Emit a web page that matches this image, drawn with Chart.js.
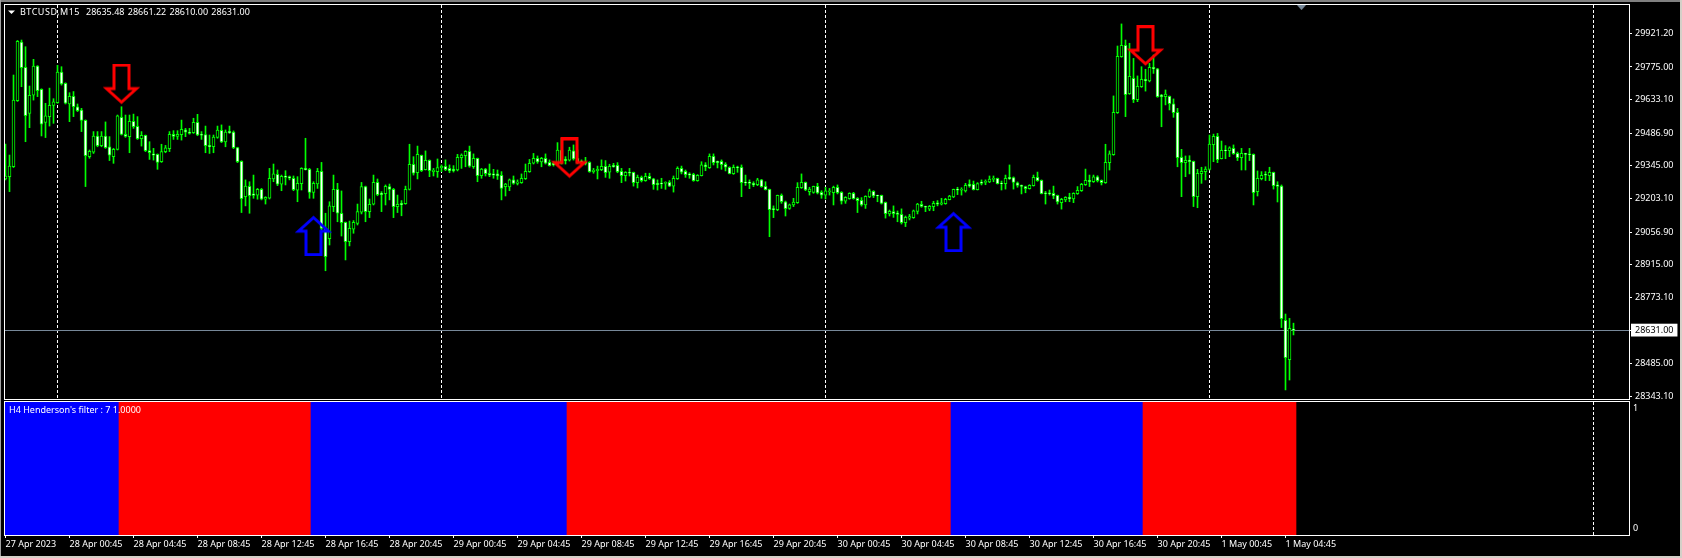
<!DOCTYPE html>
<html><head><meta charset="utf-8"><title>BTCUSD M15</title>
<script src="https://cdn.jsdelivr.net/npm/chart.js@4/dist/chart.umd.min.js"></script>
<style>
html,body{margin:0;padding:0;background:#000;overflow:hidden}
#w{position:relative;width:1682px;height:558px;background:#000;overflow:hidden}
canvas{position:absolute;left:0;display:block}
.e{position:absolute;z-index:5}
</style></head><body>
<div id="w">
<canvas id="price" width="1682" height="400" style="top:0"></canvas>
<canvas id="filter" width="1682" height="158" style="top:400px"></canvas>
<div class="e" style="left:0;top:0;width:1682px;height:2px;background:#808080"></div>
<div class="e" style="left:0;top:0;width:1px;height:558px;background:#a0a0a0"></div>
<div class="e" style="left:1680px;top:0;width:2px;height:558px;background:#d4d0c8"></div>
<div class="e" style="left:0;top:556px;width:1682px;height:2px;background:#d4d0c8"></div>
</div>
<script>
const opens=[29288,29298,29341,29628,29883,29773,29573,29652,29779,29678,
29534,29559,29608,29620,29753,29704,29614,29647,29602,29588,
29543,29385,29405,29475,29433,29475,29428,29385,29417,29556,
29482,29472,29539,29517,29463,29478,29411,29397,29395,29363,
29407,29420,29482,29473,29481,29502,29492,29489,29534,29482,
29481,29434,29428,29469,29499,29449,29495,29492,29425,29365,
29211,29256,29223,29218,29243,29200,29205,29288,29308,29265,
29301,29298,29291,29239,29268,29334,29330,29230,29266,29321,
29073,29029,29168,29243,29139,29100,29015,29070,29095,29144,
29255,29146,29178,29273,29226,29224,29255,29243,29168,29182,
29181,29243,29352,29315,29391,29328,29369,29320,29320,29337,
29343,29334,29331,29327,29381,29389,29408,29341,29378,29302,
29331,29313,29310,29310,29304,29255,29253,29284,29269,29272,
29289,29320,29357,29378,29362,29378,29360,29356,29353,29414,
29373,29370,29410,29378,29366,29360,29360,29320,29324,29328,
29343,29318,29347,29347,29321,29302,29317,29317,29272,29295,
29281,29300,29289,29269,29270,29269,29273,29257,29289,29334,
29321,29310,29308,29281,29302,29349,29337,29386,29365,29365,
29352,29339,29311,29341,29339,29275,29275,29269,29263,29284,
29256,29243,29159,29155,29217,29189,29160,29175,29185,29250,
29273,29233,29230,29256,29230,29218,29233,29228,29252,29230,
29191,29202,29226,29204,29195,29175,29210,29234,29217,29217,
29186,29136,29146,29140,29134,29098,29118,29120,29147,29178,
29169,29157,29168,29184,29179,29181,29198,29210,29244,29239,
29236,29266,29265,29241,29275,29273,29275,29286,29291,29270,
29268,29295,29294,29271,29260,29255,29246,29259,29295,29282,
29228,29228,29226,29217,29185,29197,29208,29201,29224,29237,
29263,29282,29276,29297,29282,29272,29359,29394,29576,29820,
29869,29659,29725,29633,29689,29721,29714,29773,29767,29653,
29646,29647,29615,29578,29382,29359,29370,29365,29211,29311,
29320,29330,29437,29473,29376,29414,29411,29421,29399,29381,
29399,29397,29395,29233,29289,29308,29302,29317,29262,29257,
28673,28503,28635.48];
const closes=[29301,29344,29631,29886,29772,29563,29652,29779,29672,29526,
29562,29608,29623,29753,29701,29617,29647,29602,29585,29543,
29389,29408,29475,29433,29475,29424,29392,29417,29562,29482,
29473,29539,29515,29463,29478,29411,29402,29391,29360,29407,
29423,29482,29473,29482,29504,29492,29486,29534,29479,29478,
29433,29428,29470,29501,29449,29492,29489,29424,29363,29202,
29257,29215,29217,29243,29200,29208,29291,29310,29265,29300,
29295,29292,29242,29269,29334,29328,29230,29269,29321,29073,
28950,29171,29243,29139,29098,29015,29073,29100,29146,29255,
29146,29178,29273,29220,29220,29256,29243,29168,29178,29176,
29243,29352,29313,29395,29324,29369,29324,29327,29337,29343,
29328,29323,29323,29382,29392,29408,29344,29378,29302,29331,
29311,29304,29304,29301,29247,29266,29284,29269,29275,29291,
29321,29356,29378,29362,29378,29357,29346,29349,29414,29356,
29368,29414,29375,29359,29359,29356,29320,29326,29330,29343,
29315,29343,29341,29320,29302,29317,29313,29272,29295,29281,
29300,29289,29263,29263,29266,29273,29257,29291,29334,29318,
29307,29304,29281,29304,29349,29341,29386,29359,29359,29350,
29339,29311,29339,29337,29272,29271,29269,29262,29284,29255,
29241,29155,29155,29217,29189,29159,29176,29188,29252,29273,
29240,29244,29256,29227,29218,29236,29237,29252,29228,29192,
29208,29226,29202,29194,29175,29213,29236,29214,29214,29182,
29137,29147,29137,29134,29098,29121,29124,29149,29179,29169,
29165,29169,29182,29179,29184,29200,29214,29243,29239,29243,
29260,29257,29241,29268,29269,29278,29288,29291,29268,29268,
29291,29289,29273,29260,29256,29246,29260,29295,29281,29224,
29224,29224,29214,29188,29200,29208,29202,29226,29239,29265,
29282,29276,29297,29281,29272,29360,29397,29578,29821,29869,
29654,29734,29633,29691,29721,29715,29773,29767,29646,29646,
29657,29615,29576,29381,29359,29369,29363,29211,29313,29321,
29331,29440,29473,29372,29413,29411,29423,29398,29381,29399,
29395,29394,29228,29291,29304,29305,29317,29259,29256,28681,
28511,28639,28631];
const highs=[29440,29392,29740,29890,29892,29863,29692,29808,29781,29680,
29617,29683,29637,29782,29776,29706,29663,29668,29614,29595,
29545,29414,29494,29494,29494,29536,29472,29421,29566,29602,
29566,29566,29570,29559,29494,29479,29450,29421,29397,29439,
29434,29494,29498,29498,29544,29508,29508,29552,29569,29494,
29518,29479,29479,29518,29523,29501,29518,29497,29426,29367,
29284,29276,29305,29247,29247,29211,29334,29353,29327,29305,
29324,29301,29301,29298,29337,29465,29334,29276,29334,29360,
29139,29189,29305,29269,29236,29101,29105,29107,29179,29273,
29257,29201,29305,29288,29233,29262,29266,29247,29218,29194,
29257,29439,29385,29431,29392,29410,29371,29334,29375,29349,
29371,29349,29346,29395,29397,29411,29431,29397,29379,29334,
29334,29353,29330,29327,29320,29269,29288,29301,29284,29310,
29353,29373,29399,29388,29382,29397,29371,29363,29446,29465,
29385,29426,29436,29414,29371,29382,29363,29334,29344,29371,
29368,29352,29356,29359,29334,29320,29334,29318,29305,29301,
29313,29313,29291,29284,29291,29276,29281,29301,29341,29344,
29327,29315,29313,29307,29363,29359,29397,29397,29366,29371,
29359,29341,29349,29344,29349,29305,29284,29276,29291,29286,
29276,29244,29171,29218,29223,29192,29179,29204,29272,29310,
29275,29252,29257,29269,29237,29252,29247,29257,29262,29233,
29211,29228,29230,29207,29207,29215,29244,29237,29218,29218,
29188,29153,29171,29149,29158,29127,29134,29153,29182,29191,
29170,29173,29191,29194,29204,29204,29217,29244,29252,29250,
29269,29284,29279,29272,29284,29284,29301,29301,29292,29279,
29305,29349,29297,29275,29262,29257,29263,29305,29318,29284,
29234,29240,29257,29218,29204,29211,29226,29228,29255,29269,
29331,29305,29305,29302,29284,29439,29410,29649,29866,29962,
29892,29878,29812,29736,29776,29765,29791,29827,29769,29656,
29675,29649,29636,29595,29417,29388,29389,29366,29330,29339,
29341,29479,29483,29486,29453,29433,29428,29436,29405,29421,
29400,29421,29397,29323,29320,29320,29339,29318,29276,29262,
28701,28682,28661.22];
const lows=[29284,29233,29338,29625,29689,29450,29511,29631,29646,29475,
29468,29518,29530,29617,29696,29614,29537,29559,29581,29494,
29255,29378,29399,29428,29428,29421,29368,29356,29414,29479,
29469,29402,29508,29460,29431,29407,29373,29370,29330,29360,
29402,29407,29460,29460,29457,29472,29483,29486,29476,29460,
29402,29399,29402,29465,29446,29428,29486,29420,29359,29142,
29171,29139,29204,29200,29197,29179,29201,29276,29259,29237,
29262,29284,29237,29189,29240,29327,29204,29204,29247,29066,
28889,29001,29146,29102,29040,28936,28997,29052,29088,29136,
29102,29120,29175,29215,29146,29175,29197,29120,29142,29128,
29178,29240,29305,29288,29320,29327,29298,29301,29295,29320,
29324,29315,29318,29323,29334,29341,29339,29334,29276,29291,
29301,29298,29291,29286,29197,29214,29237,29265,29262,29269,
29286,29317,29353,29356,29341,29353,29344,29344,29349,29353,
29353,29366,29370,29356,29356,29349,29317,29313,29288,29324,
29295,29291,29339,29315,29272,29279,29301,29257,29249,29275,
29278,29286,29243,29240,29247,29243,29255,29231,29286,29310,
29295,29291,29278,29278,29301,29324,29334,29349,29336,29330,
29323,29310,29308,29317,29211,29260,29246,29255,29259,29252,
29240,29037,29120,29150,29182,29127,29156,29168,29182,29247,
29237,29218,29226,29223,29204,29201,29218,29175,29223,29179,
29182,29200,29200,29142,29170,29160,29207,29207,29189,29179,
29118,29127,29121,29102,29092,29081,29110,29117,29136,29165,
29146,29150,29150,29171,29175,29178,29197,29207,29220,29218,
29231,29252,29240,29240,29262,29263,29272,29276,29266,29240,
29244,29286,29244,29252,29223,29228,29244,29257,29278,29223,
29179,29218,29202,29179,29157,29189,29189,29185,29221,29234,
29260,29255,29273,29275,29262,29269,29327,29391,29573,29817,
29559,29656,29620,29624,29686,29670,29710,29747,29643,29515,
29610,29588,29556,29341,29211,29298,29310,29168,29163,29269,
29284,29327,29363,29359,29375,29376,29385,29395,29368,29327,
29327,29368,29175,29214,29284,29281,29281,29244,29188,28642,
28371,28414,28610];

const priceTicks=[29921.20,29775.00,29633.10,29486.90,29345.00,29203.10,29056.90,28915.00,28773.10,28631.00,28485.00,28343.10];
const lastPrice=28631.00;
const timeTickBars=[0,16,32,48,64,80,96,112,128,144,160,176,192,208,224,240,256,272,288,304,320];
const timeTickLabels=["27 Apr 2023","28 Apr 00:45","28 Apr 04:45","28 Apr 08:45","28 Apr 12:45","28 Apr 16:45","28 Apr 20:45",
"29 Apr 00:45","29 Apr 04:45","29 Apr 08:45","29 Apr 12:45","29 Apr 16:45","29 Apr 20:45",
"30 Apr 00:45","30 Apr 04:45","30 Apr 08:45","30 Apr 12:45","30 Apr 16:45","30 Apr 20:45",
"1 May 00:45","1 May 04:45"];
const dayBars=[13,109,205,301,397];
const filterRunLengths=[29,48,64,96,48,38];
const filterRunStates=[1,0,1,0,1,0];
const filterTicks=[0,1];
const downArrowBars=[29,141,285];
const downArrowPrices=[29696,29375,29863];
const upArrowBars=[77,237];
const upArrowPrices=[29046,29063];
const shiftMarkerBar=[324];
const shiftMarkerPrice=[30033];
const headerName="BTCUSD,M15";
const headerValues="28635.48 28661.22 28610.00 28631.00";
const filterText="H4 Henderson's filter : 7 1.0000";

const FONT='"Noto Sans"';
const GREEN='#00ff00', WHITE='#ffffff', SLATE='#778899';
const XMIN=-0.125, XMAX=405.875;

function arrowCanvas(color,up){
  const c=document.createElement('canvas');c.width=37;c.height=43;
  const g=c.getContext('2d');
  if(up){g.translate(0,43);g.scale(1,-1);}
  g.strokeStyle=color;g.lineWidth=3;g.lineJoin='miter';g.miterLimit=4;
  g.beginPath();
  g.moveTo(11,1.5);g.lineTo(26,1.5);g.lineTo(26,25);g.lineTo(33.5,25);
  g.lineTo(18.5,38.5);g.lineTo(3.5,25);g.lineTo(11,25);g.closePath();g.stroke();
  return c;
}
function markerCanvas(){
  const c=document.createElement('canvas');c.width=9;c.height=5;
  const g=c.getContext('2d');g.fillStyle=SLATE;
  g.beginPath();g.moveTo(0,0);g.lineTo(9,0);g.lineTo(4.5,5);g.closePath();g.fill();
  return c;
}
const dayLine=v=>dayBars.includes(v);
const xTicks=[...timeTickBars,...dayBars].sort((a,b)=>a-b);
const common={responsive:false,animation:false,devicePixelRatio:1,
  plugins:{legend:{display:false},tooltip:{enabled:false},title:{display:false}}};
function frame(label){
  return {id:'frame',afterDraw(ch){
    const a=ch.chartArea,g=ch.ctx;g.save();
    g.strokeStyle=WHITE;g.lineWidth=1;
    g.strokeRect(a.left-.5,a.top-.5,a.right-a.left+1,a.bottom-a.top+1);
    label(g,a);g.restore();
  }};
}
function xAxis(showLabels,height){
  return {type:'linear',min:XMIN,max:XMAX,offset:false,
    afterBuildTicks:s=>{s.ticks=xTicks.map(v=>({value:v}));},
    afterFit:s=>{s.height=height;s.paddingLeft=0;s.paddingRight=0;},
    border:{display:false,dash:c=>[3,2]},
    grid:{lineWidth:1,drawTicks:showLabels,tickLength:3,offset:false,
      color:c=>dayLine(c.tick&&c.tick.value)?WHITE:'rgba(0,0,0,0)',
      tickColor:c=>(c.tick&&timeTickBars.includes(c.tick.value))?WHITE:'rgba(0,0,0,0)'},
    ticks:{display:showLabels,autoSkip:false,maxRotation:0,minRotation:0,align:'start',padding:1,
      color:WHITE,font:{family:FONT,size:9},
      callback:v=>{const i=timeTickBars.indexOf(v);return i<0?'':timeTickLabels[i];}}
  };
}
const yFit=s=>{s.width=53;s.paddingTop=0;s.paddingBottom=0;};

const bars=opens.map((_,i)=>i);
new Chart(document.getElementById('price'),{
  type:'bar',
  data:{datasets:[
    {type:'scatter',order:0,clip:false,data:downArrowBars.map((x,i)=>({x,y:downArrowPrices[i]})),
      pointStyle:arrowCanvas('#ff0000',false),showLine:false},
    {type:'scatter',order:0,clip:false,data:upArrowBars.map((x,i)=>({x,y:upArrowPrices[i]})),
      pointStyle:arrowCanvas('#0000ff',true),showLine:false},
    {type:'scatter',order:0,clip:false,data:shiftMarkerBar.map((x,i)=>({x,y:shiftMarkerPrice[i]})),
      pointStyle:markerCanvas(),showLine:false},
    {type:'bar',order:2,grouped:false,barThickness:3,borderWidth:1,borderSkipped:false,borderColor:GREEN,
      backgroundColor:bars.map(i=>closes[i]<opens[i]?WHITE:'#000000'),
      data:bars.map(i=>({x:i,y:[opens[i],closes[i]]}))},
    {type:'bar',order:3,grouped:false,barThickness:1,borderWidth:0,backgroundColor:GREEN,
      data:bars.map(i=>({x:i,y:[lows[i],highs[i]]}))}
  ]},
  options:{...common,
    layout:{autoPadding:false,padding:{left:5,top:5,right:0,bottom:0}},
    scales:{
      x:xAxis(false,1),
      y:{position:'right',min:28331.5,max:30044.3,
        afterBuildTicks:s=>{s.ticks=priceTicks.map(v=>({value:v}));},
        afterFit:yFit,
        border:{display:false},
        grid:{tickLength:3,lineWidth:1,tickColor:WHITE,
          color:c=>(c.tick&&c.tick.value===lastPrice)?SLATE:'rgba(0,0,0,0)'},
        ticks:{autoSkip:false,padding:3,font:{family:FONT,size:9},
          color:c=>(c.tick&&c.tick.value===lastPrice)?'#000000':WHITE,
          showLabelBackdrop:c=>!!(c.tick&&c.tick.value===lastPrice),
          backdropColor:WHITE,backdropPadding:{top:1,bottom:1,left:4,right:4},
          callback:v=>v.toFixed(2)}
      }
    }
  },
  plugins:[frame((g,a)=>{
    g.fillStyle=WHITE;g.beginPath();g.moveTo(8,10.5);g.lineTo(15,10.5);g.lineTo(11.5,14);g.closePath();g.fill();
    g.font='9px '+FONT;g.textBaseline='middle';g.textAlign='left';
    g.letterSpacing='0.5px';g.fillText(headerName,20,12.5);
    g.letterSpacing='0px';g.wordSpacing='1px';g.fillText(headerValues,86,12.5);g.wordSpacing='0px';
  })]
});

const filterState=[];
filterRunLengths.forEach((n,r)=>{for(let j=0;j<n;j++)filterState.push(filterRunStates[r]);});
new Chart(document.getElementById('filter'),{
  type:'bar',
  data:{datasets:[{type:'bar',grouped:false,barThickness:5,borderWidth:0,
    backgroundColor:filterState.map(s=>s?'#0000ff':'#ff0000'),
    data:filterState.map((s,i)=>({x:i,y:[-0.1,1.1]}))}]},
  options:{...common,
    layout:{autoPadding:false,padding:{left:5,top:2,right:0,bottom:0}},
    scales:{
      x:xAxis(true,23),
      y:{position:'right',min:-0.0583,max:1.05,
        afterBuildTicks:s=>{s.ticks=filterTicks.map(v=>({value:v}));},
        afterFit:yFit,
        border:{display:false},
        grid:{display:true,drawOnChartArea:false,drawTicks:false},
        ticks:{autoSkip:false,padding:4,color:WHITE,font:{family:FONT,size:9},callback:v=>String(v)}
      }
    }
  },
  plugins:[frame((g,a)=>{
    g.fillStyle=WHITE;g.font='9px '+FONT;g.textBaseline='middle';g.textAlign='left';g.fillText(filterText,9,10.5);
  })]
});
</script>
</body></html>
